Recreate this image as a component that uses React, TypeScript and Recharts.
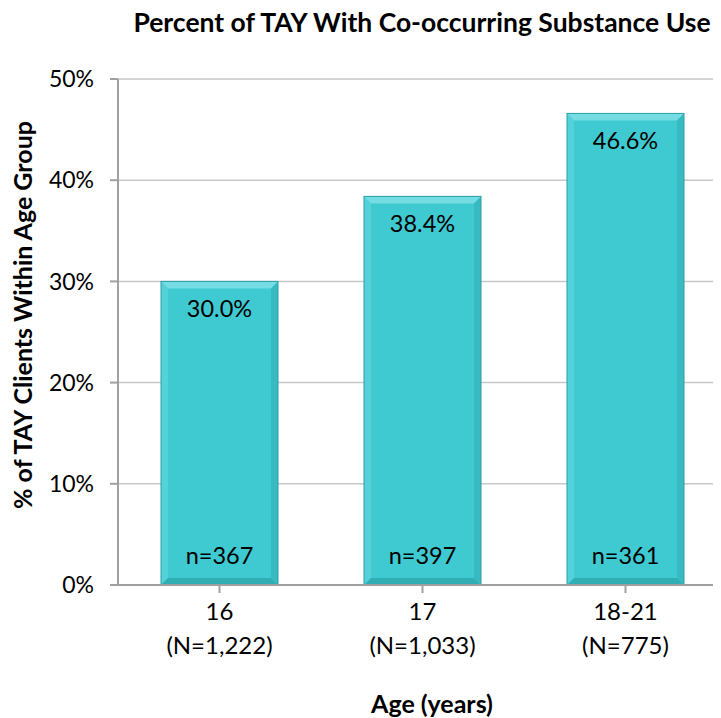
import React from "react";
import { BarChart, Bar, XAxis, YAxis, CartesianGrid, LabelList } from "recharts";

const categories = ["16", "17", "18-21"];
const totals = ["(N=1,222)", "(N=1,033)", "(N=775)"];
const percents = [30.0, 38.4, 46.6];
const counts = ["n=367", "n=397", "n=361"];
const yTicks = [0, 10, 20, 30, 40, 50];

const data = categories.map((c, i) => ({
  age: c,
  total: totals[i],
  pct: percents[i],
  n: counts[i],
}));

const FONT = "Lato, 'Open Sans', sans-serif";

const BevelBar = (props: any) => {
  const { x, y, width: w, height: h } = props;
  const b = 7;
  return (
    <g>
      <rect x={x} y={y} width={w} height={h} fill="#3FCAD2" />
      <polygon points={`${x},${y} ${x + w},${y} ${x + w - b},${y + b} ${x + b},${y + b}`} fill="#74DCE2" />
      <polygon points={`${x},${y} ${x + b},${y + b} ${x + b},${y + h - b} ${x},${y + h}`} fill="#55D2D9" />
      <polygon points={`${x + w},${y} ${x + w},${y + h} ${x + w - b},${y + h - b} ${x + w - b},${y + b}`} fill="#37BAC1" />
      <polygon points={`${x},${y + h} ${x + w},${y + h} ${x + w - b},${y + h - b} ${x + b},${y + h - b}`} fill="#31ADB4" />
      <rect x={x} y={y} width={w} height={h} fill="none" stroke="#2A9EA5" strokeWidth={1} />
    </g>
  );
};

const XTick = (props: any) => {
  const { x, y, payload, index } = props;
  return (
    <g>
      <text x={x} y={y + 25} textAnchor="middle" fontFamily={FONT} fontSize={24} fill="#000">
        {payload.value}
      </text>
      <text x={x} y={y + 59} textAnchor="middle" fontFamily={FONT} fontSize={24} fill="#000">
        {totals[index]}
      </text>
    </g>
  );
};

const TopLabel = (props: any) => {
  const { x, y, width, value } = props;
  return (
    <text x={x + width / 2} y={y + 36} textAnchor="middle" fontFamily={FONT} fontSize={23.5} fill="#000">
      {`${Number(value).toFixed(1)}%`}
    </text>
  );
};

const BottomLabel = (props: any) => {
  const { x, y, width, height, value } = props;
  return (
    <text x={x + width / 2} y={y + height - 21} textAnchor="middle" fontFamily={FONT} fontSize={23.5} fill="#000">
      {value}
    </text>
  );
};

export default function App() {
  return (
    <div style={{ margin: "-8px -8px 0 -8px", width: 721, height: 718, overflow: "hidden", position: "relative", background: "#fff" }}>
      <div
        style={{
          position: "absolute",
          left: 422,
          top: 22,
          transform: "translate(-50%, -50%)",
          whiteSpace: "nowrap",
          fontFamily: FONT,
          fontWeight: 700,
          fontSize: 26.5,
          color: "#000",
        }}
      >
        Percent of TAY With Co-occurring Substance Use
      </div>
      <div
        style={{
          position: "absolute",
          left: 432,
          top: 703,
          transform: "translate(-50%, -50%)",
          whiteSpace: "nowrap",
          fontFamily: FONT,
          fontWeight: 700,
          fontSize: 25,
          color: "#000",
        }}
      >
        Age (years)
      </div>
      <div
        style={{
          position: "absolute",
          left: 22,
          top: 315,
          transform: "translate(-50%, -50%) rotate(-90deg)",
          whiteSpace: "nowrap",
          fontFamily: FONT,
          fontWeight: 700,
          fontSize: 25,
          color: "#000",
        }}
      >
        % of TAY Clients Within Age Group
      </div>
      <div style={{ position: "absolute", left: 0, top: 0 }}>
        <BarChart
          width={735}
          height={718}
          data={data}
          margin={{ top: 79, right: 8, left: 0, bottom: 73 }}
          barSize={117}
        >
          <CartesianGrid vertical={false} stroke="#C8C8C8" strokeWidth={1.5} />
          <XAxis
            dataKey="age"
            height={60}
            stroke="#A0A0A0"
            strokeWidth={2}
            tickSize={8}
            tick={<XTick />}
            interval={0}
          />
          <YAxis
            width={118}
            domain={[0, 50]}
            ticks={yTicks}
            tickFormatter={(v: number) => `${v}%`}
            stroke="#A0A0A0"
            strokeWidth={2}
            tickSize={8}
            tickMargin={16}
            tick={{ fontFamily: FONT, fontSize: 23, fill: "#000" }}
          />
          <Bar dataKey="pct" shape={<BevelBar />} isAnimationActive={false}>
            <LabelList dataKey="pct" content={<TopLabel />} />
            <LabelList dataKey="n" content={<BottomLabel />} />
          </Bar>
        </BarChart>
      </div>
    </div>
  );
}
